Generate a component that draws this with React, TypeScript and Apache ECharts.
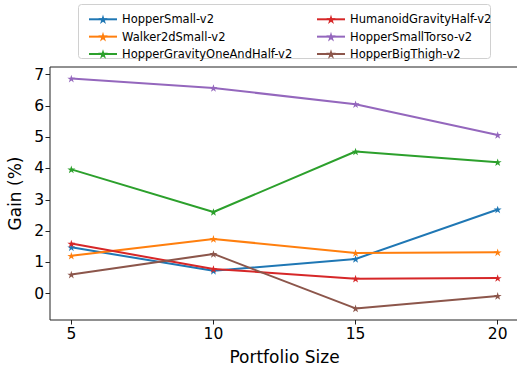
import React, { useEffect, useRef } from "react";
import * as echarts from "echarts";

const portfolioSizes = [5, 10, 15, 20];
const seriesNames = [
  "HopperSmall-v2",
  "Walker2dSmall-v2",
  "HopperGravityOneAndHalf-v2",
  "HumanoidGravityHalf-v2",
  "HopperSmallTorso-v2",
  "HopperBigThigh-v2",
];
const hopperSmall = [1.48, 0.73, 1.11, 2.69];
const walker2dSmall = [1.21, 1.75, 1.3, 1.32];
const hopperGravityOneAndHalf = [3.97, 2.61, 4.54, 4.2];
const humanoidGravityHalf = [1.6, 0.79, 0.48, 0.5];
const hopperSmallTorso = [6.87, 6.57, 6.05, 5.07];
const hopperBigThigh = [0.61, 1.27, -0.47, -0.07];
const seriesValues = [
  hopperSmall,
  walker2dSmall,
  hopperGravityOneAndHalf,
  humanoidGravityHalf,
  hopperSmallTorso,
  hopperBigThigh,
];
const colors = ["#1f77b4", "#ff7f0e", "#2ca02c", "#d62728", "#9467bd", "#8c564b"];
const xTicks = [5, 10, 15, 20];
const yTicks = [0, 1, 2, 3, 4, 5, 6, 7];

function starPath(): string {
  const pts: string[] = [];
  const inner = 0.381966;
  for (let i = 0; i < 10; i++) {
    const r = i % 2 === 0 ? 1 : inner;
    const a = -Math.PI / 2 + (i * Math.PI) / 5;
    const x = (r * Math.cos(a)).toFixed(4);
    const y = (r * Math.sin(a)).toFixed(4);
    pts.push((i === 0 ? "M" : "L") + x + " " + y);
  }
  return "path://" + pts.join(" ") + " Z";
}

export default function App() {
  const ref = useRef<HTMLDivElement>(null);
  useEffect(() => {
    if (!ref.current) return;
    const chart = echarts.init(ref.current, undefined, { renderer: "svg" });
    const star = starPath();
    const font = "DejaVu Sans";
    const legendCommon = {
      orient: "vertical",
      top: 7.3,
      itemWidth: 28,
      itemHeight: 12,
      itemGap: 3.35,
      textStyle: { fontFamily: font, fontSize: 11.5, color: "#000", lineHeight: 14 },
      z: 5,
    };
    chart.setOption({
      animation: false,
      textStyle: { fontFamily: font, color: "#000" },
      grid: {
        left: 50,
        top: 67,
        width: 469,
        height: 253,
        outerBoundsMode: "none",
        containLabel: false,
        show: true,
        borderColor: "#222",
        borderWidth: 1,
        backgroundColor: "transparent",
      },
      graphic: [
        {
          type: "rect",
          z: 0,
          shape: { x: 78.5, y: 4.5, width: 412, height: 54, r: 3 },
          style: { fill: "#fff", stroke: "#d0d0d0", lineWidth: 1 },
        },
      ],
      legend: [
        { ...legendCommon, data: seriesNames.slice(0, 3), left: 83 },
        { ...legendCommon, data: seriesNames.slice(3, 6), left: 311 },
      ],
      xAxis: {
        type: "value",
        min: 4.25,
        max: 20.75,
        name: "Portfolio Size",
        nameLocation: "middle",
        nameGap: 28,
        nameTextStyle: { fontFamily: font, fontSize: 17, color: "#000" },
        axisLine: { show: false, onZero: false },
        splitLine: { show: false },
        axisTick: {
          show: true,
          length: 4.5,
          customValues: xTicks,
          lineStyle: { color: "#222", width: 1 },
        },
        axisLabel: {
          customValues: xTicks,
          fontFamily: font,
          fontSize: 15.5,
          color: "#000",
          margin: 6,
        },
      },
      yAxis: {
        type: "value",
        min: -0.84,
        max: 7.24,
        name: "Gain (%)",
        nameLocation: "middle",
        nameRotate: 90,
        nameGap: 18,
        nameTextStyle: { fontFamily: font, fontSize: 17, color: "#000" },
        axisLine: { show: false, onZero: false },
        splitLine: { show: false },
        axisTick: {
          show: true,
          length: 4.5,
          customValues: yTicks,
          lineStyle: { color: "#222", width: 1 },
        },
        axisLabel: {
          customValues: yTicks,
          fontFamily: font,
          fontSize: 15.5,
          color: "#000",
          margin: 6,
        },
      },
      series: seriesNames.map((name, i) => ({
        name,
        type: "line",
        data: portfolioSizes.map((x, j) => [x, seriesValues[i][j]]),
        symbol: star,
        symbolSize: 8,
        symbolKeepAspect: true,
        showSymbol: true,
        lineStyle: { color: colors[i], width: 2 },
        itemStyle: { color: colors[i], borderWidth: 0 },
        color: colors[i],
        emphasis: { disabled: true },
      })),
    });
    return () => chart.dispose();
  }, []);
  return (
    <div
      ref={ref}
      style={{ position: "absolute", left: 0, top: 0, width: 517, height: 366 }}
    />
  );
}
